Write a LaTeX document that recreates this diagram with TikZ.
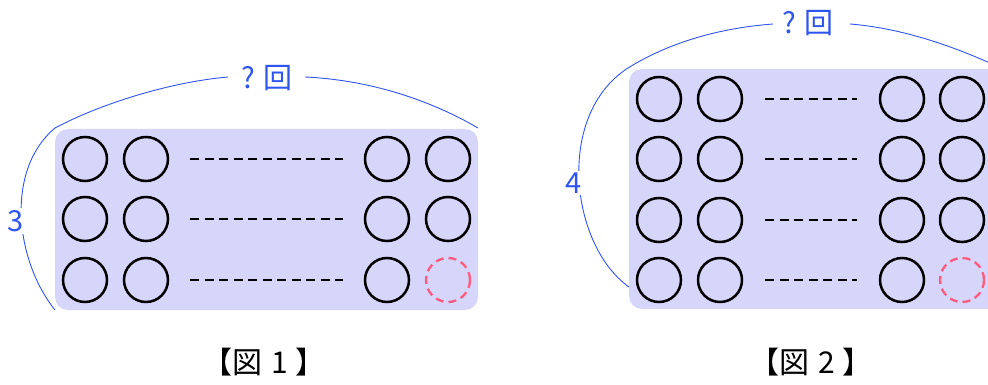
\documentclass[tikz,border=0pt]{standalone}
\usepackage{fontspec}
\newfontfamily\jpfont{Noto Sans CJK JP}
\definecolor{panel}{HTML}{D6D6FB}
\definecolor{arcblue}{HTML}{2F55F0}
\definecolor{hole}{HTML}{FF5A7E}
\tikzset{
  panelbox/.style={fill=panel, draw=none, rounded corners=13pt},
  ball/.style={circle, draw=black, line width=2.5pt, minimum size=44pt, inner sep=0pt},
  holeball/.style={circle, draw=hole, line width=2.3pt, dash pattern=on 8pt off 5pt, minimum size=44pt, inner sep=0pt},
  dots/.style={draw=black, line width=2pt, dash pattern=on 9pt off 5.5pt},
  arcline/.style={draw=arcblue, line width=0.9pt},
  lab/.style={text=arcblue, font=\jpfont\fontsize{29}{29}\selectfont, fill=white, inner sep=2pt},
  captext/.style={font=\jpfont\fontsize{30}{30}\selectfont, text=black, inner sep=0pt}
}
\begin{document}
\begin{tikzpicture}[x=1pt,y=-1pt]
\useasboundingbox (0,0) rectangle (988,385);
\clip (0,0) rectangle (988,385);
% ---------- Figure 1 ----------
\fill[panelbox] (55,129) rectangle (478,310);
\draw[arcline] (55,310) .. controls (15,260) and (5,170) .. (55,128);
\draw[arcline] (55,128) .. controls (100,104) and (170,82) .. (228,77);
\draw[arcline] (305,77) .. controls (370,80) and (430,100) .. (478,128);
\node[lab] (n3) at (16,221) {3};
\node[lab, fill=none] (q1) at (267,78) {? 回};
\foreach \r/\y in {1/159,2/219,3/280}{
  \node[ball] (a\r1) at (85,\y) {};
  \node[ball] (a\r2) at (146,\y) {};
  \node[ball] (a\r3) at (387,\y) {};
  \coordinate (d\r s) at (190,\y);
  \coordinate (d\r e) at (343,\y);
  \draw[dots] (d\r s) -- (d\r e);
}
\node[ball] (a14) at (448,159) {};
\node[ball] (a24) at (448,219) {};
\node[holeball] (a34) at (448,280) {};
\node[captext] (c1) at (264,362) {【図\hspace{0.3em}1\hspace{0.25em}】};
% ---------- Figure 2 ----------
\fill[panelbox] (629,69) rectangle (1000,309);
\draw[arcline] (629,287) .. controls (570,245) and (555,115) .. (628,68);
\draw[arcline] (628,68) .. controls (670,42) and (720,28) .. (773,24);
\draw[arcline] (850,24) .. controls (900,28) and (950,45) .. (992,64);
\node[lab] (n4) at (574,183) {4};
\node[lab, fill=none] (q2) at (808,23) {? 回};
\foreach \r/\y in {1/99,2/159,3/220,4/280}{
  \node[ball] (b\r1) at (659,\y) {};
  \node[ball] (b\r2) at (720,\y) {};
  \node[ball] (b\r3) at (902,\y) {};
  \coordinate (e\r s) at (765,\y);
  \coordinate (e\r e) at (857,\y);
  \draw[dots] (e\r s) -- (e\r e);
}
\node[ball] (b14) at (962,99) {};
\node[ball] (b24) at (962,159) {};
\node[ball] (b34) at (962,220) {};
\node[holeball] (b44) at (962,280) {};
\node[captext] (c2) at (811,362) {【図\hspace{0.3em}2\hspace{0.25em}】};
\end{tikzpicture}
\end{document}
